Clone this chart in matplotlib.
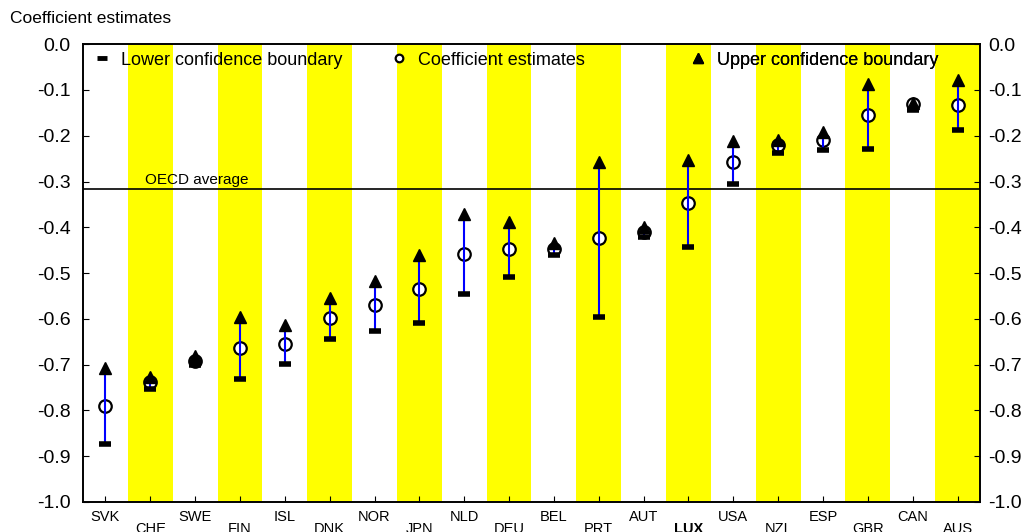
import matplotlib
matplotlib.use("Agg")
import matplotlib.pyplot as plt
import matplotlib.ticker as ticker
from matplotlib.lines import Line2D
import numpy as np

plt.rcParams['font.family'] = ['Liberation Sans', 'DejaVu Sans']
plt.rcParams['axes.unicode_minus'] = False

countries = ["SVK", "CHE", "SWE", "FIN", "ISL", "DNK", "NOR", "JPN", "NLD", "DEU",
             "BEL", "PRT", "AUT", "LUX", "USA", "NZL", "ESP", "GBR", "CAN", "AUS"]
lower = [-0.873, -0.753, -0.700, -0.731, -0.699, -0.644, -0.627, -0.610, -0.546, -0.508,
         -0.460, -0.596, -0.421, -0.442, -0.306, -0.237, -0.231, -0.228, -0.143, -0.188]
coef = [-0.790, -0.738, -0.691, -0.663, -0.655, -0.598, -0.570, -0.535, -0.459, -0.448,
        -0.448, -0.424, -0.410, -0.346, -0.257, -0.221, -0.210, -0.155, -0.131, -0.132]
upper = [-0.708, -0.726, -0.682, -0.595, -0.614, -0.554, -0.517, -0.461, -0.371, -0.389,
         -0.434, -0.258, -0.400, -0.253, -0.211, -0.210, -0.192, -0.086, -0.128, -0.079]
oecd_avg = -0.316
highlight = "LUX"
legend_names = ["Lower confidence boundary", "Coefficient estimates", "Upper confidence boundary"]


def main():
    n = len(countries)
    x = np.arange(n)

    fig = plt.figure(figsize=(10.27, 5.32), dpi=100)
    ax = fig.add_axes([0.0808, 0.0564, 0.8734, 0.8606])

    # alternate yellow bands
    for i in range(1, n, 2):
        ax.axvspan(i - 0.5, i + 0.5, color="#FFFF00", lw=0, zorder=0)

    ax.axhline(oecd_avg, color="black", lw=1.2, zorder=2)
    ax.text(0.88, oecd_avg + 0.003, "OECD average", fontsize=11, ha="left", va="bottom", zorder=2)

    # confidence range
    ax.vlines(x, lower, upper, color="#0000FF", lw=1.5, zorder=4)

    ax.plot(x, lower, ls="none", marker="_", ms=9, mew=4, color="black", zorder=5)
    ax.plot(x, coef, ls="none", marker="o", ms=9, mfc="white", mec="black", mew=1.6, zorder=3)
    ax.plot(x, upper, ls="none", marker="^", ms=9, color="black", zorder=5)

    # legend: three fixed-width columns
    handles = [Line2D([], [], ls="none", marker="_", ms=7, mew=3.5, color="black"),
               Line2D([], [], ls="none", marker="o", ms=5.5, mfc="white", mec="black", mew=1.6),
               Line2D([], [], ls="none", marker="^", ms=7, color="black")]
    for h, name, xpos in zip(handles, legend_names, [0.0115, 0.3426, 0.676]):
        leg = ax.legend([h], [name], loc="center left", bbox_to_anchor=(xpos, 0.965),
                        frameon=False, fontsize=13, handlelength=1.0, handletextpad=0.55,
                        borderpad=0, borderaxespad=0)
        ax.add_artist(leg)

    ax.set_xlim(-0.5, n - 0.5)
    ax.set_ylim(-1.0, 0.0)
    ax.yaxis.set_major_locator(ticker.MultipleLocator(0.1))
    ax.yaxis.set_major_formatter(ticker.FormatStrFormatter("%.1f"))
    ax.tick_params(axis="y", direction="in", length=4, labelsize=14, pad=9)

    # right-hand axis repeats the scale
    ax2 = ax.twinx()
    ax2.set_ylim(-1.0, 0.0)
    ax2.yaxis.set_major_locator(ticker.MultipleLocator(0.1))
    ax2.yaxis.set_major_formatter(ticker.FormatStrFormatter("%.1f"))
    ax2.tick_params(axis="y", direction="in", length=4, labelsize=14, pad=6)

    ax.set_xticks(x)
    labels = [c if i % 2 == 0 else "\n" + c for i, c in enumerate(countries)]
    ax.set_xticklabels(labels, fontsize=10.5, linespacing=0.8)
    ax.tick_params(axis="x", direction="in", length=4, pad=6)
    for lab in ax.get_xticklabels():
        if lab.get_text().strip() == highlight:
            lab.set_fontweight("bold")

    for a in (ax, ax2):
        for sp in a.spines.values():
            sp.set_linewidth(1.2)

    fig.text(0.0097, 0.966, "Coefficient estimates", fontsize=12.5, ha="left", va="center")

    plt.savefig("out.png", dpi=100)


if __name__ == "__main__":
    main()
